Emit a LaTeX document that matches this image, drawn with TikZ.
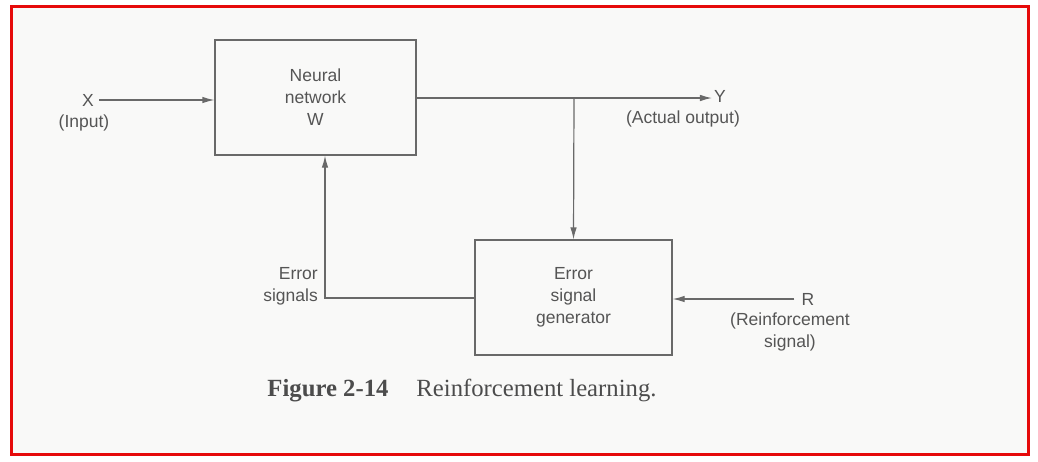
\documentclass[tikz,border=0pt]{standalone}
\usepackage{fontspec}
\setmainfont{Liberation Sans}
\newfontfamily\capfont{Liberation Serif}
\usetikzlibrary{arrows.meta,positioning,calc}
\definecolor{inkgray}{RGB}{85,85,85}
\definecolor{linegray}{RGB}{105,105,105}
\definecolor{pagered}{RGB}{230,10,10}
\definecolor{paper}{RGB}{249,249,248}
\tikzset{
    block/.style={draw=linegray,line width=1.2pt,align=center,text=inkgray,inner sep=0pt},
    lbl/.style={align=center,text=inkgray,inner sep=1pt},
    arrow/.style={-{Latex[length=12pt,width=6.5pt]},line width=1.2pt,draw=linegray},
    wire/.style={line width=1.2pt,draw=linegray}
}

\begin{document}
\begin{tikzpicture}[x=1pt,y=-1pt,every node/.style={font=\fontsize{17.5}{22}\selectfont}]
    \useasboundingbox (0,0) rectangle (1038,461);
    \fill[white] (0,0) rectangle (1038,461);
    \draw[pagered,line width=3.2pt,fill=paper] (11.5,6.5) rectangle (1028.5,454.5);
    % blocks
    \node[block,minimum width=201pt,minimum height=115pt] (nn) at (315.5,97.5) {Neural\\network\\W};
    \node[block,minimum width=197pt,minimum height=115pt] (esg) at (573.5,297.5) {Error\\signal\\generator};
    % input
    \node[lbl,inner sep=5pt] (xin) at (88,100) {X};
    \node[lbl] (xlab) at (84,123) {(Input)};
    \draw[arrow] (xin) -- (xin -| nn.west);
    % output
    \coordinate (br) at (574,98);
    \node[lbl,inner sep=2pt] (yout) at (720,96) {Y};
    \node[lbl] (ylab) at (683,119) {(Actual output)};
    \draw[wire] (br -| nn.east) -- (br);
    \draw[arrow] (br) -- (br -| yout.west);
    \draw[arrow] (br) -- (esg.north);
    % feedback
    \coordinate (fb) at (325,298);
    \node[lbl,anchor=east,align=right] (elab) at (319,286) {Error\\signals};
    \draw[arrow] (fb -| esg.west) -- (fb) -- (fb |- nn.south);
    % reinforcement
    \node[lbl,inner sep=7pt] (rin) at (808,299) {R};
    \node[lbl] (rlab) at (790,332) {(Reinforcement\\signal)};
    \draw[arrow] (rin) -- (rin -| esg.east);
    % caption
    \node[text=inkgray!90!black,font=\capfont\fontsize{24.7}{30}\selectfont] (cap) at (462,391)
        {\textbf{Figure 2-14}\hspace{28pt}Reinforcement learning.};
\end{tikzpicture}
\end{document}
